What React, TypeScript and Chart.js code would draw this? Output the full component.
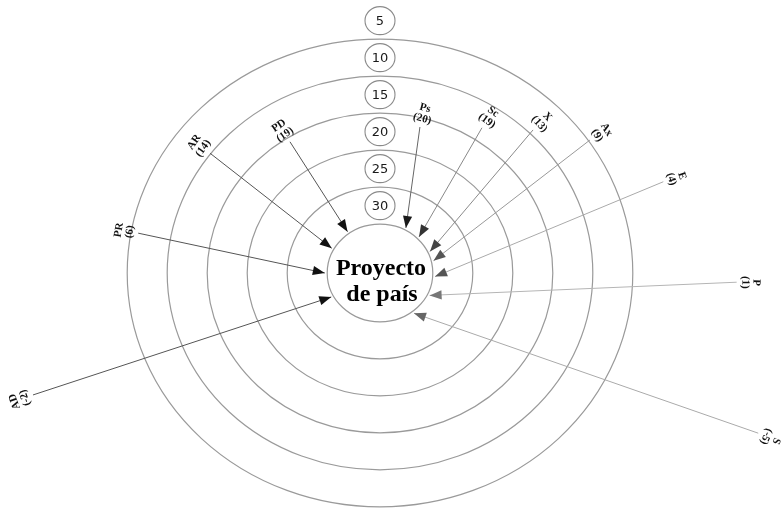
import React, { useEffect, useRef } from "react";
import { Chart, registerables } from "chart.js";

Chart.register(...registerables);

// ---- data ----
const ringLabels = [5, 10, 15, 20, 25, 30];
const ringBounds = [7.5, 12.5, 17.5, 22.5, 27.5];
const coreBound = 32.5;
const centerTitle = ["Proyecto", "de país"];

const itemNames = ["PR", "AR", "PD", "Ps", "Sc", "X", "Ax", "E", "P", "S", "AD"];
const itemScores = [6, 14, 19, 20, 19, 13, 9, 4, 1, -5, -2];
// direction (degrees, clockwise from east) and ring-scale position of each arrow's start
const itemStartAngle = [190.1, 217.3, 237.6, 284.2, 303.0, 314.7, 325.6, 340.8, 1.6, 24.6, 159.2];
const itemStartRing = [8.4, 12.4, 18.1, 18.75, 15.7, 11.9, 7.3, 1.6, -5.5, -12.9, -7.3];
// direction at which each arrow meets the core circle
const itemEndAngle = [180, 209, 234, 298, 315, 335, 346, 4, 26, 52, 152];
const tipRing = 32.2;

// ---- styles ----
const SCALE_TOP = 39.1; // ring-scale value at the very centre
const lineColors = ["#555", "#555", "#555", "#666", "#888", "#8a8a8a", "#999", "#aaa", "#b5b5b5", "#aaa", "#555"];
const headColors = ["#111", "#111", "#111", "#1a1a1a", "#333", "#444", "#555", "#555", "#777", "#666", "#111"];

function toXY(angleDeg: number, ringValue: number) {
  const d = SCALE_TOP - ringValue;
  const a = (angleDeg * Math.PI) / 180;
  return { x: d * Math.cos(a), y: -d * Math.sin(a) };
}

const ringPlugin = {
  id: "ringPlugin",
  beforeDatasetsDraw(chart: any) {
    const { ctx, scales } = chart;
    const xs = scales.x;
    const ys = scales.y;
    const cx = xs.getPixelForValue(0);
    const cy = ys.getPixelForValue(0);
    ctx.save();
    ctx.strokeStyle = "#9a9a9a";
    ctx.lineWidth = 1.2;
    [...ringBounds, coreBound].forEach((v) => {
      const d = SCALE_TOP - v;
      const rx = xs.getPixelForValue(d) - cx;
      const ry = cy - ys.getPixelForValue(d);
      ctx.beginPath();
      ctx.ellipse(cx, cy, rx, ry, 0, 0, Math.PI * 2);
      ctx.stroke();
    });
    ctx.restore();
  },
  afterDatasetsDraw(chart: any) {
    const { ctx, scales } = chart;
    const xs = scales.x;
    const ys = scales.y;
    const cx = xs.getPixelForValue(0);
    const cy = ys.getPixelForValue(0);
    ctx.save();

    // arrowheads and labels
    itemNames.forEach((name, i) => {
      const meta = chart.getDatasetMeta(i);
      const p0 = meta.data[0];
      const p1 = meta.data[1];
      if (!p0 || !p1) return;
      const ang = Math.atan2(p1.y - p0.y, p1.x - p0.x);
      const L = 12;
      const W = 4.6;
      ctx.fillStyle = headColors[i];
      ctx.beginPath();
      ctx.moveTo(p1.x, p1.y);
      ctx.lineTo(p1.x - L * Math.cos(ang) + W * Math.sin(ang), p1.y - L * Math.sin(ang) - W * Math.cos(ang));
      ctx.lineTo(p1.x - L * Math.cos(ang) - W * Math.sin(ang), p1.y - L * Math.sin(ang) + W * Math.cos(ang));
      ctx.closePath();
      ctx.fill();

      // label outward from the start point
      const dx = p0.x - cx;
      const dy = p0.y - cy;
      const len = Math.hypot(dx, dy);
      const ux = dx / len;
      const uy = dy / len;
      const lx = p0.x + ux * 14;
      const ly = p0.y + uy * 14;
      ctx.save();
      ctx.translate(lx, ly);
      ctx.rotate(Math.atan2(dy, dx) + Math.PI / 2);
      ctx.fillStyle = "#111";
      ctx.font = "bold 11px 'Liberation Serif', serif";
      ctx.textAlign = "center";
      ctx.textBaseline = "middle";
      ctx.fillText(name, 0, -5.5);
      ctx.fillText("(" + itemScores[i] + ")", 0, 5.5);
      ctx.restore();
    });

    // ring value bubbles
    ringLabels.forEach((v) => {
      const d = SCALE_TOP - v;
      const by = ys.getPixelForValue(d);
      ctx.beginPath();
      ctx.ellipse(cx, by, 15, 14, 0, 0, Math.PI * 2);
      ctx.fillStyle = "#fff";
      ctx.fill();
      ctx.strokeStyle = "#8a8a8a";
      ctx.lineWidth = 1.1;
      ctx.stroke();
      ctx.fillStyle = "#1a1a1a";
      ctx.font = "13px 'DejaVu Sans', sans-serif";
      ctx.textAlign = "center";
      ctx.textBaseline = "middle";
      ctx.fillText(String(v), cx, by + 1);
    });

    // centre title
    ctx.fillStyle = "#000";
    ctx.font = "bold 24px 'Liberation Serif', serif";
    ctx.textAlign = "center";
    ctx.textBaseline = "alphabetic";
    ctx.fillText(centerTitle[0], cx + 1, cy + 2);
    ctx.fillText(centerTitle[1], cx + 2, cy + 28);
    ctx.restore();
  },
};

export default function App() {
  const ref = useRef<HTMLCanvasElement | null>(null);
  useEffect(() => {
    if (!ref.current) return;
    const datasets = itemNames.map((name, i) => ({
      label: name,
      data: [toXY(itemStartAngle[i], itemStartRing[i]), toXY(itemEndAngle[i], tipRing)],
      showLine: true,
      borderColor: lineColors[i],
      borderWidth: 1,
      pointRadius: 0,
      pointHoverRadius: 0,
    }));
    const chart = new Chart(ref.current, {
      type: "scatter",
      data: { datasets },
      options: {
        animation: false,
        responsive: false,
        layout: { padding: 0, autoPadding: false },
        plugins: { legend: { display: false }, tooltip: { enabled: false } },
        scales: {
          x: { type: "linear", display: false, min: -47.5, max: 50.375 },
          y: { type: "linear", display: false, min: -32.16, max: 36.89 },
        },
      },
      plugins: [ringPlugin],
    } as any);
    return () => chart.destroy();
  }, []);
  return (
    <div style={{ position: "fixed", left: 0, top: 0, width: 783, height: 511, background: "#fff" }}>
      <canvas ref={ref} width={783} height={511} style={{ display: "block", width: 783, height: 511 }} />
    </div>
  );
}
